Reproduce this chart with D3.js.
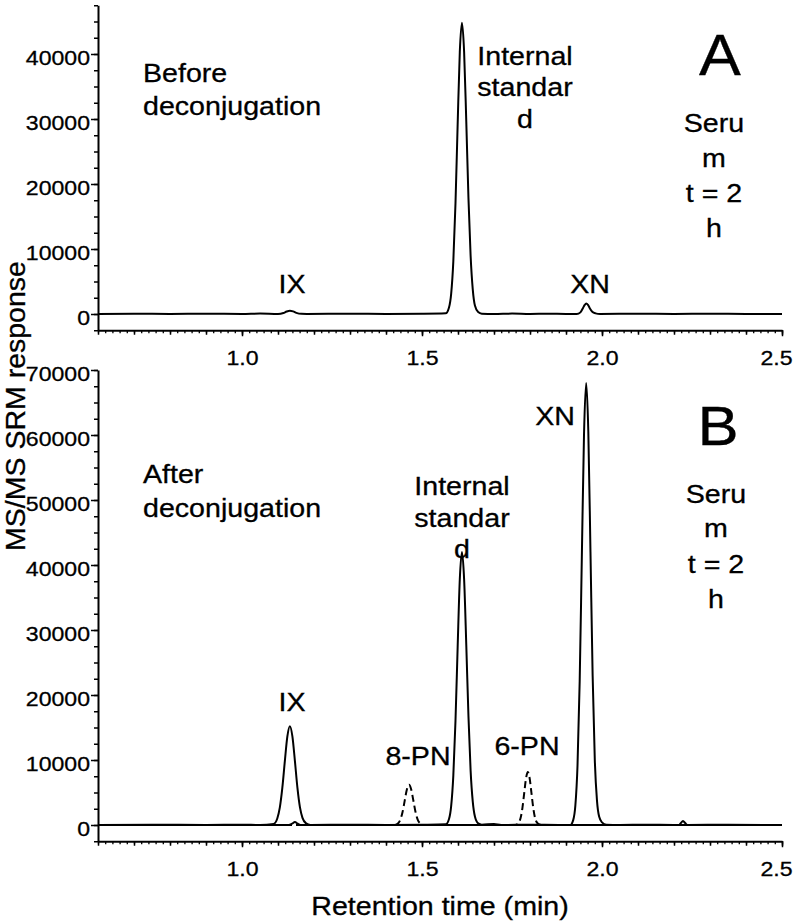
<!DOCTYPE html>
<html><head><meta charset="utf-8">
<script src="https://cdn.jsdelivr.net/npm/d3@7"></script>
<style>
body{margin:0;background:#fff}
svg{display:block}
text{font-family:"Liberation Sans",Arial,Helvetica,sans-serif;fill:#000;stroke:#000;stroke-width:0.3px}
</style>
</head><body>
<svg id="c" width="793" height="924"></svg>
<script>
// ---------- data ----------
const xDomain = [0.6, 2.5];
const xTickLabels = [1.0, 1.5, 2.0, 2.5];
const yDomainA = [-2500, 47500];
const yDomainB = [-2500, 70000];
const yTickLabelsA = [0, 10000, 20000, 30000, 40000];
const yTickLabelsB = [0, 10000, 20000, 30000, 40000, 50000, 60000, 70000];

// Panel A: before deconjugation (time min, response)
const traceA = [
  [0.60,0],[0.70,40],[0.80,0],[0.90,50],[1.00,0],[1.05,60],[1.10,0],
  [1.115,150],[1.124,380],[1.133,500],[1.142,400],[1.151,180],[1.165,20],[1.18,0],
  [1.30,40],[1.40,0],[1.50,30],
  [1.566,100],[1.575,1000],[1.581,3100],[1.587,8100],[1.593,17000],[1.599,29100],[1.605,40300],
  [1.611,44800],[1.617,40300],[1.623,29600],[1.629,17900],[1.635,9000],[1.641,3800],[1.647,1300],
  [1.656,300],[1.666,50],[1.70,0],[1.75,60],[1.80,0],[1.85,50],[1.90,0],
  [1.930,0],[1.940,250],[1.947,900],[1.952,1400],[1.956,1600],[1.961,1400],[1.966,900],[1.973,350],
  [1.982,100],[1.995,0],[2.10,40],[2.20,0],[2.30,50],[2.40,0],[2.50,0]
];

// Panel B: after deconjugation, main solid trace (IX, internal standard, XN)
const traceB1 = [
  [0.60,0],[0.75,40],[0.90,0],[1.00,50],[1.05,0],
  [1.088,170],[1.098,1000],[1.105,2660],[1.112,5700],[1.119,9830],[1.126,13630],[1.133,15200],
  [1.140,13630],[1.147,9830],[1.154,5700],[1.161,2700],[1.168,1100],[1.178,250],[1.19,0],
  [1.30,40],[1.40,0],[1.50,40],
  [1.566,100],[1.575,920],[1.581,2900],[1.587,7600],[1.593,16000],[1.599,27300],[1.605,37800],
  [1.611,42000],[1.617,37800],[1.623,27700],[1.629,16800],[1.635,8400],[1.641,3600],[1.647,1300],
  [1.656,250],[1.666,50],[1.70,150],[1.72,0],[1.80,40],[1.88,0],
  [1.912,0],[1.920,750],[1.926,3000],[1.932,9200],[1.938,22100],[1.944,41300],[1.950,60000],
  [1.956,68000],[1.962,60500],[1.968,42000],[1.974,23000],[1.980,10000],[1.986,3800],[1.992,1300],
  [2.000,400],[2.012,50],[2.05,0],[2.12,40],[2.20,0],
  [2.214,0],[2.219,300],[2.225,600],[2.231,300],[2.237,0],[2.35,40],[2.50,0]
];
// Panel B: second solid trace
const traceB2 = [[0.60,0],[1.13,0],[1.139,200],[1.147,450],[1.155,200],[1.165,0],[2.50,0]];
// Panel B: dashed trace (8-PN, 6-PN)
const traceB3 = [
  [0.60,0],[1.425,0],[1.434,270],[1.440,840],[1.446,2000],[1.452,3760],[1.458,5470],[1.464,6200],
  [1.470,5470],[1.476,3760],[1.482,2000],[1.488,840],[1.494,300],[1.505,0],
  [1.760,0],[1.764,90],[1.769,360],[1.774,1100],[1.779,2650],[1.784,4950],[1.789,7190],[1.794,8150],
  [1.799,7190],[1.804,4950],[1.809,2650],[1.814,1100],[1.819,400],[1.826,100],[1.835,0],[2.50,0]
];

const yTitle = "MS/MS SRM response";
const xTitle = "Retention time (min)";

// ---------- drawing ----------
const svg = d3.select("#c");
const SX = 1.1; // horizontal text stretch
const x = d3.scaleLinear().domain(xDomain).range([98, 782]);
const yA = d3.scaleLinear().domain(yDomainA).range([330.25, 5.25]);
const yB = d3.scaleLinear().domain(yDomainB).range([841.25, 370]);

function txt(xp, yp, s, size, anchor) {
  svg.append("text")
    .attr("transform", `translate(${xp},${yp}) scale(${SX},1)`)
    .attr("text-anchor", anchor || "start")
    .style("font-size", size + "px")
    .text(s);
}

function panel(y, yLabels, yDom) {
  const g = svg.append("g");
  const yMinor = d3.range(yDom[0], yDom[1] + 1, 2500);
  g.append("g").attr("transform", "translate(98,0)")
    .call(d3.axisLeft(y).tickValues(yMinor).tickSize(4).tickSizeOuter(0).tickFormat(""))
    .call(a => a.select(".domain").remove())
    .call(a => a.selectAll("line").attr("stroke-width", 1.5));
  const ya = g.append("g").attr("transform", "translate(98,0)")
    .call(d3.axisLeft(y).tickValues(yLabels).tickSize(7).tickSizeOuter(0).tickFormat(d3.format("d")));
  ya.select(".domain").attr("stroke-width", 2);
  ya.selectAll("line").attr("stroke-width", 1.5);
  ya.selectAll("text").attr("x", null).attr("dy", null)
    .attr("transform", `translate(-8,10.5) scale(${SX},1)`)
    .style("font-size", "21px").style("font-family", "Liberation Sans, Arial, sans-serif");
  const xB = y.range()[0];
  const minor = d3.range(0, 96).map(i => +(0.6 + i * 0.02).toFixed(2));
  const medium = d3.range(0, 20).map(i => +(0.6 + i * 0.1).toFixed(1));
  g.append("g").attr("transform", `translate(0,${xB})`)
    .call(d3.axisBottom(x).tickValues(minor).tickSize(3).tickSizeOuter(0).tickFormat(""))
    .call(a => a.select(".domain").remove())
    .call(a => a.selectAll("line").attr("stroke-width", 1.3));
  g.append("g").attr("transform", `translate(0,${xB})`)
    .call(d3.axisBottom(x).tickValues(medium).tickSize(4.5).tickSizeOuter(0).tickFormat(""))
    .call(a => a.select(".domain").remove())
    .call(a => a.selectAll("line").attr("stroke-width", 1.5));
  const xa = g.append("g").attr("transform", `translate(0,${xB})`)
    .call(d3.axisBottom(x).tickValues(xTickLabels).tickSize(6).tickSizeOuter(0).tickFormat(d3.format(".1f")));
  xa.select(".domain").attr("stroke-width", 2);
  xa.selectAll("line").attr("stroke-width", 1.5);
  xa.selectAll("text").attr("y", null).attr("dy", null)
    .attr("transform", (d, i, n) => `translate(${i === n.length - 1 ? -6 : 0},35) scale(${SX},1)`)
    .style("font-size", "21px").style("font-family", "Liberation Sans, Arial, sans-serif");
  return g;
}

panel(yA, yTickLabelsA, yDomainA);
panel(yB, yTickLabelsB, yDomainB);

function trace(data, y, dashed) {
  const line = d3.line().x(d => x(d[0])).y(d => y(d[1])).curve(d3.curveMonotoneX);
  svg.append("path").datum(data)
    .attr("d", line).attr("fill", "none").attr("stroke", "#000")
    .attr("stroke-width", 2)
    .attr("stroke-linejoin", "round")
    .attr("stroke-dasharray", dashed ? "7,4" : null);
}
trace(traceB3, yB, true);
trace(traceA, yA, false);
trace(traceB2, yB, false);
trace(traceB1, yB, false);

// ---------- annotations ----------
const F = 26;
// Panel A
txt(143, 82, "Before", F); txt(143, 115, "deconjugation", F);
txt(525, 65, "Internal", F, "middle"); txt(525, 96, "standar", F, "middle"); txt(525, 128, "d", F, "middle");
txt(720, 75, "A", 57, "middle");
txt(714, 132, "Seru", F, "middle"); txt(714, 167, "m", F, "middle");
txt(714, 202, "t = 2", F, "middle"); txt(714, 237, "h", F, "middle");
txt(292, 293, "IX", F, "middle"); txt(590, 293, "XN", F, "middle");
// Panel B
txt(143, 483, "After", F); txt(143, 517, "deconjugation", F);
txt(462, 495, "Internal", F, "middle"); txt(462, 527, "standar", F, "middle"); txt(462, 558, "d", F, "middle");
txt(555, 425, "XN", F, "middle");
txt(718, 445, "B", 56, "middle");
txt(716, 503, "Seru", F, "middle"); txt(716, 537, "m", F, "middle");
txt(716, 573, "t = 2", F, "middle"); txt(716, 608, "h", F, "middle");
txt(292, 711, "IX", F, "middle");
txt(418, 765, "8-PN", F, "middle");
txt(527, 755, "6-PN", F, "middle");

// axis titles
svg.append("text")
  .attr("transform", `translate(440,915) scale(${SX},1)`)
  .attr("text-anchor", "middle").style("font-size", "26px").text(xTitle);
svg.append("text")
  .attr("transform", `translate(25,406) rotate(-90)`)
  .attr("text-anchor", "middle").style("font-size", "28.5px").text(yTitle);
</script>
</body></html>
